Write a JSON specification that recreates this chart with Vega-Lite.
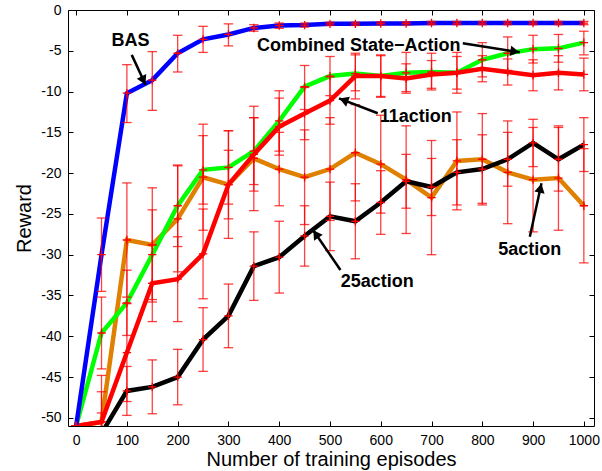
{
  "$schema": "https://vega.github.io/schema/vega-lite/v6.json",
  "width": 526,
  "height": 416,
  "autosize": {"type": "none"},
  "padding": {"left": 68, "top": 10, "right": 8, "bottom": 45},
  "background": "white",
  "config": {
    "view": {"stroke": "black", "strokeWidth": 1},
    "font": "Liberation Sans",
    "axis": {
      "grid": false,
      "domain": false,
      "tickColor": "black",
      "tickSize": -5,
      "tickWidth": 1,
      "labelColor": "black",
      "labelFont": "Liberation Sans",
      "labelFontSize": 14,
      "titleFont": "Liberation Sans",
      "titleFontSize": 20,
      "titleFontWeight": "normal",
      "titleColor": "black"
    }
  },
  "datasets": {
    "series": [
      {"s": "5action", "x": 0, "y": -51, "lo": -51, "hi": -51},
      {"s": "5action", "x": 50, "y": -50.5, "lo": -56.2, "hi": -44.8},
      {"s": "5action", "x": 100, "y": -28.2, "lo": -35.2, "hi": -21.2},
      {"s": "5action", "x": 150, "y": -28.8, "lo": -35.8, "hi": -21.8},
      {"s": "5action", "x": 200, "y": -25.6, "lo": -32.1, "hi": -19.1},
      {"s": "5action", "x": 250, "y": -20.5, "lo": -27.0, "hi": -14.0},
      {"s": "5action", "x": 300, "y": -21.4, "lo": -28.0, "hi": -14.8},
      {"s": "5action", "x": 350, "y": -18.2, "lo": -24.6, "hi": -11.8},
      {"s": "5action", "x": 400, "y": -19.5, "lo": -24.0, "hi": -15.0},
      {"s": "5action", "x": 450, "y": -20.5, "lo": -26.3, "hi": -14.7},
      {"s": "5action", "x": 500, "y": -19.5, "lo": -25.8, "hi": -13.2},
      {"s": "5action", "x": 550, "y": -17.5, "lo": -23.4, "hi": -11.6},
      {"s": "5action", "x": 600, "y": -18.9, "lo": -24.9, "hi": -12.9},
      {"s": "5action", "x": 650, "y": -20.8, "lo": -27.4, "hi": -14.2},
      {"s": "5action", "x": 700, "y": -23.0, "lo": -30.0, "hi": -16.0},
      {"s": "5action", "x": 750, "y": -18.5, "lo": -24.5, "hi": -12.5},
      {"s": "5action", "x": 800, "y": -18.3, "lo": -23.9, "hi": -12.7},
      {"s": "5action", "x": 850, "y": -19.9, "lo": -26.2, "hi": -13.6},
      {"s": "5action", "x": 900, "y": -20.8, "lo": -27.2, "hi": -14.4},
      {"s": "5action", "x": 950, "y": -20.6, "lo": -27.0, "hi": -14.2},
      {"s": "5action", "x": 1000, "y": -24.0, "lo": -31.0, "hi": -17.0},

      {"s": "Combined", "x": 0, "y": -51, "lo": -51, "hi": -51},
      {"s": "Combined", "x": 50, "y": -39.6, "lo": -44.0, "hi": -35.2},
      {"s": "Combined", "x": 100, "y": -35.9, "lo": -39.9, "hi": -31.9},
      {"s": "Combined", "x": 150, "y": -30.0, "lo": -35.5, "hi": -24.5},
      {"s": "Combined", "x": 200, "y": -24.0, "lo": -29.0, "hi": -19.0},
      {"s": "Combined", "x": 250, "y": -19.6, "lo": -23.8, "hi": -15.4},
      {"s": "Combined", "x": 300, "y": -19.3, "lo": -23.8, "hi": -14.8},
      {"s": "Combined", "x": 350, "y": -17.3, "lo": -21.4, "hi": -13.2},
      {"s": "Combined", "x": 400, "y": -13.6, "lo": -17.3, "hi": -9.9},
      {"s": "Combined", "x": 450, "y": -9.4, "lo": -12.2, "hi": -6.8},
      {"s": "Combined", "x": 500, "y": -8.1, "lo": -10.5, "hi": -5.7},
      {"s": "Combined", "x": 550, "y": -7.8, "lo": -9.9, "hi": -5.5},
      {"s": "Combined", "x": 600, "y": -8.1, "lo": -10.6, "hi": -5.6},
      {"s": "Combined", "x": 650, "y": -7.7, "lo": -10.0, "hi": -5.2},
      {"s": "Combined", "x": 700, "y": -7.6, "lo": -9.8, "hi": -5.3},
      {"s": "Combined", "x": 750, "y": -7.7, "lo": -10.2, "hi": -5.2},
      {"s": "Combined", "x": 800, "y": -6.1, "lo": -8.2, "hi": -4.0},
      {"s": "Combined", "x": 850, "y": -5.3, "lo": -7.4, "hi": -3.3},
      {"s": "Combined", "x": 900, "y": -4.8, "lo": -6.5, "hi": -3.1},
      {"s": "Combined", "x": 950, "y": -4.7, "lo": -6.4, "hi": -3.0},
      {"s": "Combined", "x": 1000, "y": -4.0, "lo": -5.5, "hi": -2.6},

      {"s": "11action", "x": 0, "y": -51, "lo": -51, "hi": -51},
      {"s": "11action", "x": 50, "y": -50.5, "lo": -54.2, "hi": -46.8},
      {"s": "11action", "x": 100, "y": -42.0, "lo": -48.0, "hi": -36.0},
      {"s": "11action", "x": 150, "y": -33.5, "lo": -38.2, "hi": -28.8},
      {"s": "11action", "x": 200, "y": -33.0, "lo": -38.2, "hi": -27.8},
      {"s": "11action", "x": 250, "y": -29.9, "lo": -35.4, "hi": -24.4},
      {"s": "11action", "x": 300, "y": -21.4, "lo": -25.6, "hi": -17.2},
      {"s": "11action", "x": 350, "y": -17.7, "lo": -22.2, "hi": -13.2},
      {"s": "11action", "x": 400, "y": -14.3, "lo": -17.8, "hi": -10.8},
      {"s": "11action", "x": 450, "y": -12.7, "lo": -15.9, "hi": -9.5},
      {"s": "11action", "x": 500, "y": -11.1, "lo": -14.0, "hi": -8.2},
      {"s": "11action", "x": 550, "y": -8.1, "lo": -10.9, "hi": -5.3},
      {"s": "11action", "x": 600, "y": -8.1, "lo": -10.7, "hi": -5.5},
      {"s": "11action", "x": 650, "y": -8.4, "lo": -10.2, "hi": -6.6},
      {"s": "11action", "x": 700, "y": -7.9, "lo": -9.6, "hi": -6.2},
      {"s": "11action", "x": 750, "y": -7.7, "lo": -9.7, "hi": -5.7},
      {"s": "11action", "x": 800, "y": -7.2, "lo": -8.8, "hi": -5.6},
      {"s": "11action", "x": 850, "y": -7.6, "lo": -9.2, "hi": -6.0},
      {"s": "11action", "x": 900, "y": -8.0, "lo": -9.9, "hi": -6.1},
      {"s": "11action", "x": 950, "y": -7.7, "lo": -9.8, "hi": -5.6},
      {"s": "11action", "x": 1000, "y": -7.9, "lo": -9.9, "hi": -5.9},

      {"s": "25action", "x": 0, "y": -52, "lo": -52, "hi": -52},
      {"s": "25action", "x": 50, "y": -51.9, "lo": -54.4, "hi": -49.4},
      {"s": "25action", "x": 100, "y": -46.7, "lo": -49.7, "hi": -43.7},
      {"s": "25action", "x": 150, "y": -46.2, "lo": -49.5, "hi": -42.9},
      {"s": "25action", "x": 200, "y": -45.0, "lo": -48.4, "hi": -41.6},
      {"s": "25action", "x": 250, "y": -40.4, "lo": -44.3, "hi": -36.5},
      {"s": "25action", "x": 300, "y": -37.5, "lo": -41.4, "hi": -33.6},
      {"s": "25action", "x": 350, "y": -31.4, "lo": -35.6, "hi": -27.2},
      {"s": "25action", "x": 400, "y": -30.3, "lo": -34.7, "hi": -25.9},
      {"s": "25action", "x": 450, "y": -27.7, "lo": -31.4, "hi": -24.0},
      {"s": "25action", "x": 500, "y": -25.3, "lo": -29.5, "hi": -21.1},
      {"s": "25action", "x": 550, "y": -25.9, "lo": -30.5, "hi": -21.3},
      {"s": "25action", "x": 600, "y": -23.6, "lo": -27.5, "hi": -19.7},
      {"s": "25action", "x": 650, "y": -21.0, "lo": -24.3, "hi": -17.7},
      {"s": "25action", "x": 700, "y": -21.7, "lo": -25.2, "hi": -18.2},
      {"s": "25action", "x": 750, "y": -19.9, "lo": -23.9, "hi": -15.9},
      {"s": "25action", "x": 800, "y": -19.5, "lo": -23.7, "hi": -15.3},
      {"s": "25action", "x": 850, "y": -18.3, "lo": -21.6, "hi": -15.0},
      {"s": "25action", "x": 900, "y": -16.3, "lo": -19.2, "hi": -13.4},
      {"s": "25action", "x": 950, "y": -18.3, "lo": -22.2, "hi": -14.4},
      {"s": "25action", "x": 1000, "y": -16.5, "lo": -19.8, "hi": -13.2},

      {"s": "BAS", "x": 0, "y": -51, "lo": -51, "hi": -51},
      {"s": "BAS", "x": 50, "y": -30.0, "lo": -34.5, "hi": -25.5},
      {"s": "BAS", "x": 100, "y": -10.2, "lo": -13.8, "hi": -6.7},
      {"s": "BAS", "x": 150, "y": -8.6, "lo": -12.3, "hi": -5.1},
      {"s": "BAS", "x": 200, "y": -5.3, "lo": -7.6, "hi": -3.1},
      {"s": "BAS", "x": 250, "y": -3.6, "lo": -5.2, "hi": -2.0},
      {"s": "BAS", "x": 300, "y": -3.0, "lo": -4.4, "hi": -1.7},
      {"s": "BAS", "x": 350, "y": -2.2, "lo": -2.6, "hi": -1.8},
      {"s": "BAS", "x": 400, "y": -1.9, "lo": -2.25, "hi": -1.6},
      {"s": "BAS", "x": 450, "y": -1.85, "lo": -2.1, "hi": -1.6},
      {"s": "BAS", "x": 500, "y": -1.7, "lo": -1.9, "hi": -1.5},
      {"s": "BAS", "x": 550, "y": -1.7, "lo": -1.9, "hi": -1.5},
      {"s": "BAS", "x": 600, "y": -1.65, "lo": -1.85, "hi": -1.45},
      {"s": "BAS", "x": 650, "y": -1.65, "lo": -1.85, "hi": -1.45},
      {"s": "BAS", "x": 700, "y": -1.6, "lo": -1.8, "hi": -1.4},
      {"s": "BAS", "x": 750, "y": -1.6, "lo": -1.8, "hi": -1.4},
      {"s": "BAS", "x": 800, "y": -1.6, "lo": -1.8, "hi": -1.4},
      {"s": "BAS", "x": 850, "y": -1.6, "lo": -1.8, "hi": -1.4},
      {"s": "BAS", "x": 900, "y": -1.6, "lo": -1.8, "hi": -1.4},
      {"s": "BAS", "x": 950, "y": -1.6, "lo": -1.8, "hi": -1.4},
      {"s": "BAS", "x": 1000, "y": -1.6, "lo": -1.8, "hi": -1.4}
    ],
    "notes": [
      {"label": "BAS", "x": 107, "y": -3.86},
      {"label": "Combined State−Action", "x": 556.7, "y": -4.41},
      {"label": "11action", "x": 669, "y": -13.06},
      {"label": "5action", "x": 893.6, "y": -29.42},
      {"label": "25action", "x": 593, "y": -33.35}
    ],
    "arrows": [
      {"name": "BAS", "x": 109.5, "y": -5.5, "x2": 137, "y2": -9.2},
      {"name": "Combined", "x": 761.6, "y": -4.08, "x2": 873.9, "y2": -5.19},
      {"name": "11action", "x": 594, "y": -12.66, "x2": 517.8, "y2": -10.83},
      {"name": "5action", "x": 893.6, "y": -27.8, "x2": 916.6, "y2": -21.25},
      {"name": "25action", "x": 520.6, "y": -31.87, "x2": 466.6, "y2": -26.97}
    ],
    "heads": [
      {"name": "BAS", "x": 132.6, "y": -8.64},
      {"name": "Combined", "x": 864.2, "y": -5.09},
      {"name": "11action", "x": 527.1, "y": -11.05},
      {"name": "5action", "x": 914.5, "y": -21.85},
      {"name": "25action", "x": 472.1, "y": -27.47}
    ]
  },
  "resolve": {"axis": {"x": "independent", "y": "independent"}},
  "layer": [
    {
      "data": {"name": "series"},
      "mark": {"type": "line", "strokeWidth": 4.5, "clip": true, "strokeJoin": "miter", "strokeCap": "butt"},
      "encoding": {
        "x": {"field": "x", "type": "quantitative", "scale": {"domain": [-16, 1020], "nice": false, "zero": false},
          "axis": {"orient": "bottom", "values": [0, 100, 200, 300, 400, 500, 600, 700, 800, 900, 1000], "format": "d", "title": "Number of training episodes", "labelPadding": 12, "titlePadding": 2}},
        "y": {"field": "y", "type": "quantitative", "scale": {"domain": [-51, 0], "nice": false, "zero": false},
          "axis": {"orient": "left", "values": [-50, -45, -40, -35, -30, -25, -20, -15, -10, -5, 0], "title": "Reward", "labelPadding": 12, "titlePadding": 6, "labelExpr": "replace(datum.label, '−', '-')"}},
        "color": {"field": "s", "type": "nominal", "legend": null,
          "scale": {"domain": ["BAS", "Combined", "11action", "5action", "25action"], "range": ["#0000ff", "#00ff00", "#ff0000", "#e08000", "#000000"]}},
        "order": {"value": 0}
      }
    },
    {
      "data": {"name": "series"},
      "mark": {"type": "point", "opacity": 0},
      "encoding": {
        "x": {"field": "x", "type": "quantitative", "scale": {"domain": [-16, 1020], "nice": false, "zero": false},
          "axis": {"orient": "top", "values": [0, 100, 200, 300, 400, 500, 600, 700, 800, 900, 1000], "labels": false, "title": null}},
        "y": {"field": "y", "type": "quantitative", "scale": {"domain": [-51, 0], "nice": false, "zero": false},
          "axis": {"orient": "right", "values": [-50, -45, -40, -35, -30, -25, -20, -15, -10, -5, 0], "labels": false, "title": null}}
      }
    },
    {
      "data": {"name": "series"},
      "mark": {"type": "rule", "color": "#ff0000", "strokeWidth": 1.3, "opacity": 0.75, "clip": true},
      "encoding": {
        "x": {"field": "x", "type": "quantitative", "axis": null},
        "y": {"field": "lo", "type": "quantitative", "axis": null},
        "y2": {"field": "hi"}
      }
    },
    {
      "data": {"name": "series"},
      "mark": {"type": "point", "shape": "M-1,0L1,0", "color": "#ff0000", "filled": false, "size": 90, "strokeWidth": 1.3, "opacity": 0.75, "clip": true},
      "encoding": {
        "x": {"field": "x", "type": "quantitative", "axis": null},
        "y": {"field": "lo", "type": "quantitative", "axis": null}
      }
    },
    {
      "data": {"name": "series"},
      "mark": {"type": "point", "shape": "M-1,0L1,0", "color": "#ff0000", "filled": false, "size": 90, "strokeWidth": 1.3, "opacity": 0.75, "clip": true},
      "encoding": {
        "x": {"field": "x", "type": "quantitative", "axis": null},
        "y": {"field": "hi", "type": "quantitative", "axis": null}
      }
    },
    {
      "data": {"name": "series"},
      "mark": {"type": "point", "shape": "M-1,0L1,0M0,-1L0,1", "color": "#ff0000", "filled": false, "size": 70, "strokeWidth": 1.3, "opacity": 1, "clip": true},
      "encoding": {
        "x": {"field": "x", "type": "quantitative", "axis": null},
        "y": {"field": "y", "type": "quantitative", "axis": null}
      }
    },
    {
      "data": {"name": "arrows"},
      "mark": {"type": "rule", "color": "black", "strokeWidth": 2.5},
      "encoding": {
        "x": {"field": "x", "type": "quantitative", "axis": null},
        "y": {"field": "y", "type": "quantitative", "axis": null},
        "x2": {"field": "x2"},
        "y2": {"field": "y2"}
      }
    },
    {
      "data": {"name": "heads"},
      "transform": [{"filter": "datum.name === 'BAS'"}],
      "mark": {"type": "point", "shape": "triangle-up", "filled": true, "color": "black", "opacity": 1, "size": 110, "angle": 154.5},
      "encoding": {
        "x": {"field": "x", "type": "quantitative", "axis": null},
        "y": {"field": "y", "type": "quantitative", "axis": null}
      }
    },
    {
      "data": {"name": "heads"},
      "transform": [{"filter": "datum.name === 'Combined'"}],
      "mark": {"type": "point", "shape": "triangle-up", "filled": true, "color": "black", "opacity": 1, "size": 110, "angle": 99},
      "encoding": {
        "x": {"field": "x", "type": "quantitative", "axis": null},
        "y": {"field": "y", "type": "quantitative", "axis": null}
      }
    },
    {
      "data": {"name": "heads"},
      "transform": [{"filter": "datum.name === '11action'"}],
      "mark": {"type": "point", "shape": "triangle-up", "filled": true, "color": "black", "opacity": 1, "size": 110, "angle": 291},
      "encoding": {
        "x": {"field": "x", "type": "quantitative", "axis": null},
        "y": {"field": "y", "type": "quantitative", "axis": null}
      }
    },
    {
      "data": {"name": "heads"},
      "transform": [{"filter": "datum.name === '5action'"}],
      "mark": {"type": "point", "shape": "triangle-up", "filled": true, "color": "black", "opacity": 1, "size": 110, "angle": 12.4},
      "encoding": {
        "x": {"field": "x", "type": "quantitative", "axis": null},
        "y": {"field": "y", "type": "quantitative", "axis": null}
      }
    },
    {
      "data": {"name": "heads"},
      "transform": [{"filter": "datum.name === '25action'"}],
      "mark": {"type": "point", "shape": "triangle-up", "filled": true, "color": "black", "opacity": 1, "size": 110, "angle": 325.6},
      "encoding": {
        "x": {"field": "x", "type": "quantitative", "axis": null},
        "y": {"field": "y", "type": "quantitative", "axis": null}
      }
    },
    {
      "data": {"name": "notes"},
      "mark": {"type": "text", "font": "Liberation Sans", "fontWeight": "bold", "fontSize": 18, "color": "black", "align": "center", "baseline": "middle"},
      "encoding": {
        "x": {"field": "x", "type": "quantitative", "axis": null},
        "y": {"field": "y", "type": "quantitative", "axis": null},
        "text": {"field": "label"}
      }
    }
  ]
}
